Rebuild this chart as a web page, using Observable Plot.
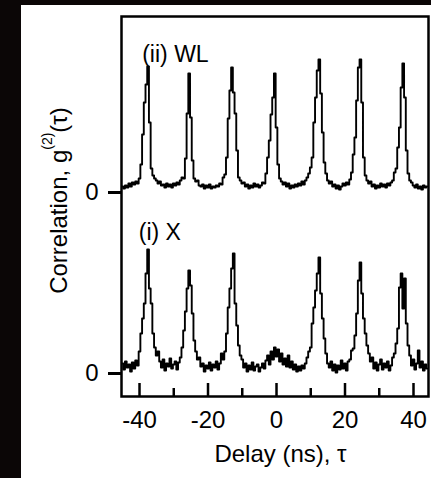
<!DOCTYPE html>
<html><head><meta charset="utf-8">
<script src="https://cdn.jsdelivr.net/npm/d3@7"></script>
<script src="https://cdn.jsdelivr.net/npm/@observablehq/plot@0.6"></script>
<style>
html,body{margin:0;padding:0;background:#0b0606;}
#wrap{position:absolute;left:21px;top:5px;width:410px;height:473px;background:#fff;}
svg{display:block}
</style></head><body><div id="wrap"></div>
<script>
// Delay bins (ns)
const tauStart = -45, tauStep = 0.5;
// (ii) wetting layer, coincidence counts (arb.)
const wlCounts = [
 6,4,7,5,9,6,10,8,11,9,
 14,28,58,90,108,126,70,24,17,14,
 12,9,11,7,8,5,9,6,8,5,
 9,7,10,8,12,15,14,34,79,119,
 75,32,14,11,12,7,6,8,4,7,
 5,8,4,6,5,7,6,9,8,15,
 18,35,74,102,125,100,79,42,15,12,
 9,10,6,8,4,7,5,9,6,8,
 5,7,10,9,19,35,52,78,95,119,
 65,28,14,11,8,10,6,9,4,7,
 5,8,6,9,7,11,8,12,15,19,
 25,35,70,95,122,133,99,60,30,19,
 12,9,11,6,8,4,7,3,6,9,
 7,10,8,13,20,38,55,92,125,133,
 90,35,17,12,9,11,6,8,4,7,
 5,9,6,8,5,9,7,10,12,20,
 24,45,65,105,129,95,42,19,12,10,
 7,5,8,4,6,3,7,5,6];
// (i) exciton, coincidence counts (arb.)
const xCounts = [
 10,4,12,6,9,2,11,5,13,8,
 22,40,55,70,100,124,85,70,40,26,
 18,22,12,6,14,3,10,7,15,5,
 9,12,4,11,16,26,43,62,85,103,
 88,60,33,22,14,16,7,10,2,8,
 5,11,3,9,6,12,4,10,20,14,
 22,40,66,85,105,120,70,48,28,18,
 14,6,10,2,8,4,11,3,7,9,
 2,6,10,5,13,18,9,22,14,26,
 17,24,12,20,9,15,7,18,6,12,
 4,9,2,7,3,8,5,10,16,22,
 26,50,66,83,100,116,80,55,35,20,
 10,6,12,3,9,1,8,4,13,5,
 10,3,12,14,23,25,38,60,93,111,
 80,55,40,28,20,12,16,5,11,3,
 9,14,4,10,6,12,3,8,16,20,
 30,45,86,100,65,95,50,28,18,8,
 14,4,10,23,6,12,3,9,5];
const wlOffset = 181;               // vertical offset of the upper trace
const seriesNames = ["(ii) WL", "(i) X"];
const xTickMajor = [-40, -20, 0, 20, 40];
const xTickMinor = [-30, -10, 10, 30];
const yZeroTicks = [0, wlOffset];
const xLabel = "Delay (ns), τ";
const yLabelParts = ["Correlation, g", "(2)", "(τ)"];

const series = [
  {name: seriesNames[0], counts: wlCounts, offset: wlOffset},
  {name: seriesNames[1], counts: xCounts, offset: 0}
];
const rows = series.flatMap(s => s.counts.map((c, i) => ({series: s.name, tau: tauStart + i * tauStep, g: c + s.offset})));

const font = "'Liberation Sans', Arial, Helvetica, sans-serif";
const chart = Plot.plot({
  width: 410, height: 473,
  marginLeft: 100, marginRight: 3, marginTop: 11, marginBottom: 82,
  style: {fontFamily: font, fontSize: "24px", color: "#000", background: "#fff", overflow: "visible"},
  x: {domain: [-45.26, 44.38]},
  y: {domain: [-23, 357]},
  marks: [
    Plot.line(rows, {x: "tau", y: "g", z: "series", curve: "step", stroke: "#000", strokeWidth: 1.9}),
    Plot.ruleX(xTickMajor, {insetTop: 367, stroke: "#000", strokeWidth: 2.5}),
    Plot.ruleX(xTickMinor, {insetTop: 372, stroke: "#000", strokeWidth: 2.5}),
    Plot.axisX({ticks: xTickMajor, tickFormat: d => (d < 0 ? "-" : "") + Math.abs(d), tickSize: 0, tickPadding: 14, fontSize: 24, label: null}),
    Plot.axisY({ticks: yZeroTicks, tickFormat: () => "0", tickSize: 13, tickPadding: 10, strokeWidth: 3, fontSize: 24, label: null}),
    Plot.frame({stroke: "#000", strokeWidth: 2.5}),
    Plot.text([xLabel], {frameAnchor: "bottom", lineAnchor: "middle", textAnchor: "middle", dy: 58, dx: 5.5, fontSize: 24, fill: "#000", letterSpacing: "0.8px"}),
    Plot.text([yLabelParts.join("")], {frameAnchor: "left", lineAnchor: "middle", textAnchor: "middle", rotate: -90, dx: -62, dy: -6, fontSize: 24, fill: "#000"}),
    Plot.text([seriesNames[0]], {frameAnchor: "top-left", lineAnchor: "middle", textAnchor: "start", dx: 20.7, dy: 38, fontSize: 23, fill: "#000"}),
    Plot.text([seriesNames[1]], {frameAnchor: "top-left", lineAnchor: "middle", textAnchor: "start", dx: 17.3, dy: 216.5, fontSize: 23, fill: "#000"})
  ]
});
document.getElementById("wrap").appendChild(chart);

// superscript in the y label
d3.select(chart).selectAll("text").filter(function() { return this.textContent === yLabelParts.join(""); })
  .each(function() {
    const t = d3.select(this);
    t.text(null);
    t.append("tspan").text(yLabelParts[0]);
    t.append("tspan").attr("font-size", 14).attr("dy", -15).text(yLabelParts[1]);
    t.append("tspan").attr("dy", 15).text(yLabelParts[2]);
  });
</script></body></html>
